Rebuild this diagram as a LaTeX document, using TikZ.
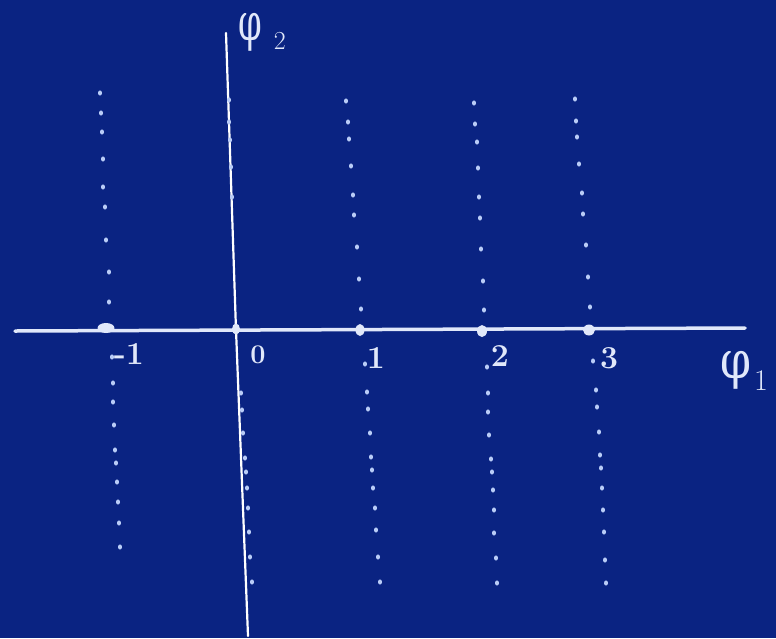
\documentclass[tikz,border=0pt]{standalone}
\usepackage{fontspec}
\newfontfamily\grk{DejaVu Serif}
\usetikzlibrary{shapes.geometric}
\definecolor{board}{RGB}{10,35,130}
\definecolor{chalk}{RGB}{225,232,250}
\definecolor{dotc}{RGB}{185,204,247}
\begin{document}
\begin{tikzpicture}[x=1pt,y=-1pt,
  axisline/.style={draw=chalk, line width=3.5pt, line cap=round},
  vaxis/.style={draw=white, line width=2.2pt, line cap=round},
  chalkdot/.style={fill=dotc, draw=none},
  tickmark/.style={ellipse, fill=chalk, inner sep=0pt},
  lbl/.style={text=chalk, inner sep=0pt, anchor=base, font=\fontsize{32}{34}\selectfont\bfseries},
  axlbl/.style={text=chalk, inner sep=0pt, anchor=base west, font=\mdseries}]
\useasboundingbox (0,0) rectangle (776,638);
\fill[board] (0,0) rectangle (776,638);
% axes
\coordinate (hL) at (15,331);
\coordinate (hR) at (745,328);
\coordinate (vT) at (226,33);
\coordinate (vM) at (236,330);
\coordinate (vB) at (248,636);
\draw[axisline] (hL) -- (hR);
\draw[vaxis] (vT) -- (vM) -- (vB);
% dotted columns
\foreach \x/\y in {
  100/93,101/113,102/132,103/159,103/187,105/207,106/240,109/272,109/302,
  112/357,113/383,113/402,114/425,115/450,116/463,117/482,118/502,119/523,120/547,
  229/100,229/122,230/140,231/167,232/197,
  241/393,242/410,243/433,245/458,246/472,247/488,248/508,249/532,250/557,252/582,
  346/101,348/122,349/139,351/166,353/195,354/215,357/247,359/279,361/309,
  365/364,367/392,368/409,370/433,371/457,372/470,373/488,375/508,376/530,378/557,380/582,
  474/103,475/124,477/142,478/168,479/197,480/218,481/249,483/281,484/310,
  487/367,488/393,488/412,489/435,491/459,492/472,493/490,494/510,494/533,496/558,497/583,
  575/99,576/121,577/137,579/164,582/193,583/214,586/245,588/277,590/307,
  593/361,596/390,597/407,599/432,600/455,601/468,602/488,603/510,604/532,605/560,606/583}
  \fill[chalkdot] (\x,\y) ellipse (2pt and 2.6pt);
% points on the axis
\node[tickmark, minimum width=17pt, minimum height=10pt] (pm1) at (106,328) {};
\node[tickmark, minimum width=8pt, minimum height=11pt] (p0) at (236,329) {};
\node[tickmark, minimum width=9pt, minimum height=12pt] (p1) at (360,330) {};
\node[tickmark, minimum width=10pt, minimum height=12pt] (p2) at (482,331) {};
\node[tickmark, minimum width=12pt, minimum height=11pt] (p3) at (589,330) {};
% labels
\node[lbl] (lm1) at (129,364) {-1};
\node[lbl, font=\fontsize{27}{29}\selectfont\bfseries] (l0) at (258,363) {0};
\node[lbl] (l1) at (376,368) {1};
\node[lbl] (l2) at (500,366) {2};
\node[lbl] (l3) at (609,368) {3};
\node[axlbl] (phi2) at (238,40)
  {{\grk\fontsize{52}{54}\selectfont\scalebox{0.65}[1]{φ}}\hspace{12pt}{\fontsize{26}{28}\selectfont\raisebox{-9pt}{2}}};
\node[axlbl] (phi1) at (720,378)
  {{\grk\fontsize{52}{54}\selectfont\scalebox{0.85}[1]{φ}}\hspace{3pt}{\fontsize{30}{32}\selectfont\raisebox{-12pt}{1}}};
\end{tikzpicture}
\end{document}
